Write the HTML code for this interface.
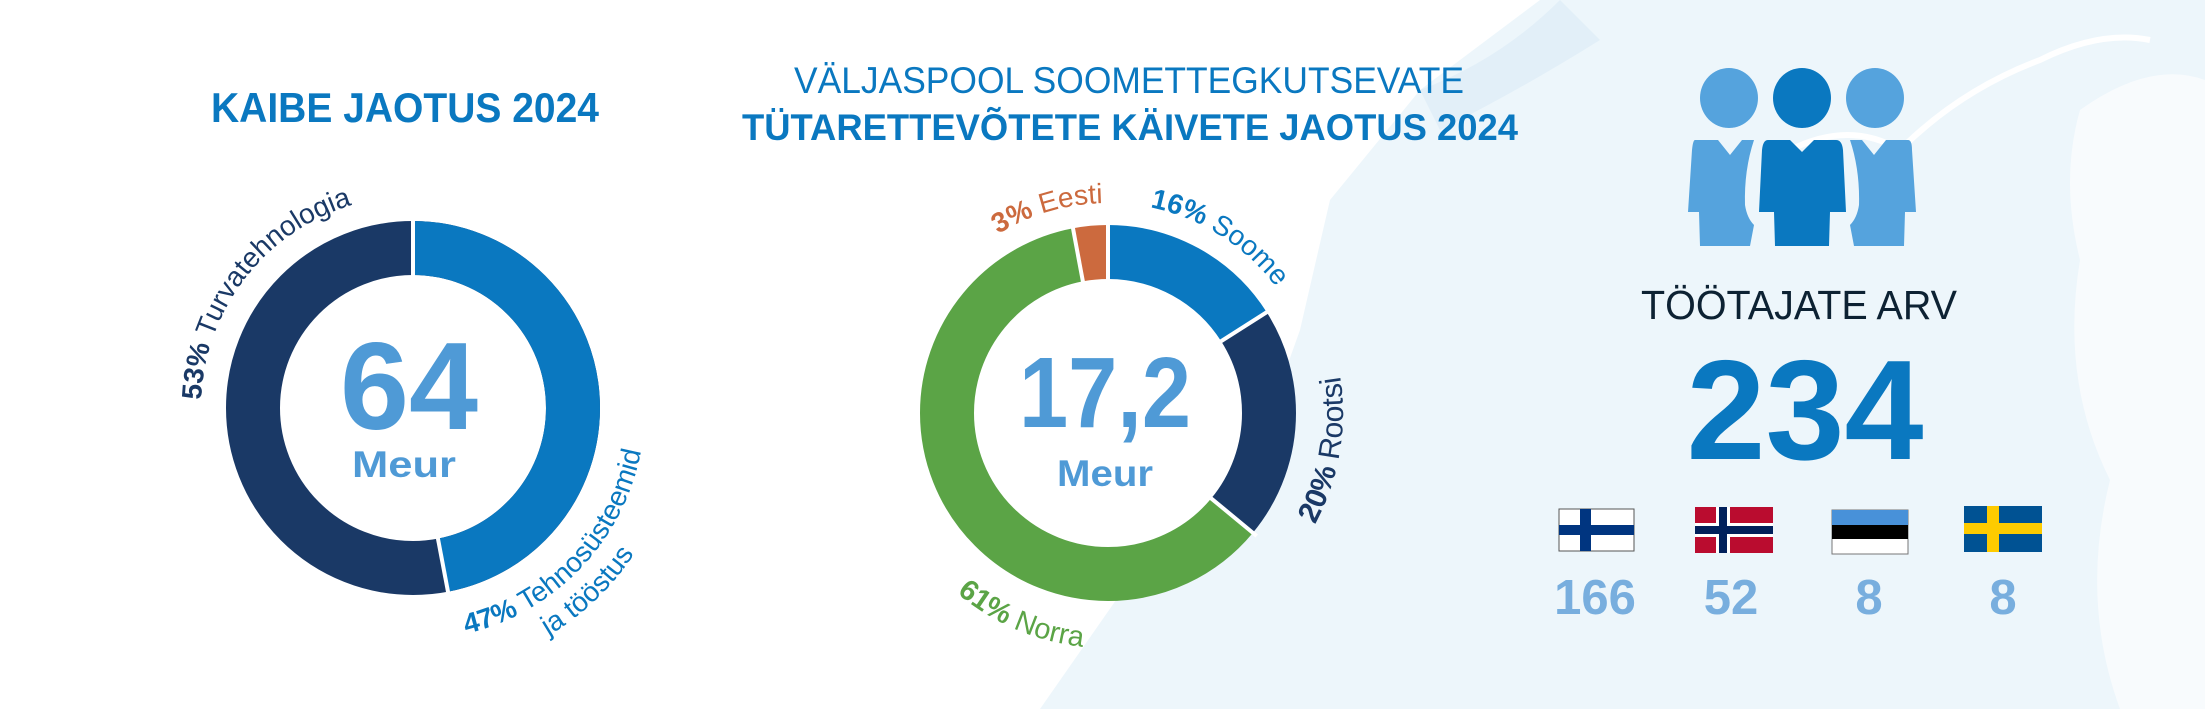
<!DOCTYPE html>
<html><head><meta charset="utf-8"><style>
html,body{margin:0;padding:0;background:#fff;}
svg{display:block;font-family:"Liberation Sans",sans-serif;}
</style></head><body>
<svg width="2205" height="709" viewBox="0 0 2205 709" xmlns="http://www.w3.org/2000/svg">
<defs>
<path id="c1cw" d="M 201,408 A 212 212 0 1 1 625,408 A 212 212 0 1 1 201,408"/>
<path id="c1ccw" d="M 181,408 A 232 232 0 1 0 645,408 A 232 232 0 1 0 181,408"/>
<path id="c1ccw2" d="M 148,408 A 265 265 0 1 0 678,408 A 265 265 0 1 0 148,408"/>
<path id="c2cw" d="M 898,413 A 210 210 0 1 1 1318,413 A 210 210 0 1 1 898,413"/>
<path id="c2ccw" d="M 873,413 A 235 235 0 1 0 1343,413 A 235 235 0 1 0 873,413"/>
</defs>
<path d="M1540,0 L2205,0 L2205,709 L1040,709 L1130,580 L1250,470 L1300,330 L1330,200 L1420,90 Z" fill="#edf6fb"/>
<path d="M1560,0 Q1500,60 1420,90 L1440,130 Q1520,90 1600,40 Z" fill="#e2eff8"/>
<path d="M2080,110 Q2150,60 2205,80 L2205,709 L2120,709 Q2080,600 2110,480 Q2060,380 2080,260 Q2060,180 2080,110 Z" fill="#f8fbfd"/>
<path d="M1790,150 Q1850,120 1900,150 Q1960,90 2040,60 Q2100,30 2150,40" fill="none" stroke="#fff" stroke-width="6"/>
<text x="405" y="122" font-size="42" font-weight="bold" fill="#0a78c0" text-anchor="middle" textLength="388" lengthAdjust="spacingAndGlyphs">KAIBE JAOTUS 2024</text>
<text x="1129" y="93" font-size="37" fill="#0a78c0" text-anchor="middle" textLength="670" lengthAdjust="spacingAndGlyphs">VÄLJASPOOL SOOMETTEGKUTSEVATE</text>
<text x="1130" y="140" font-size="37" font-weight="bold" fill="#0a78c0" text-anchor="middle" textLength="776" lengthAdjust="spacingAndGlyphs">TÜTARETTEVÕTETE KÄIVETE JAOTUS 2024</text>
<g transform="rotate(-90 413 408)">
<circle cx="413" cy="408" r="160" fill="none" stroke="#1a3966" stroke-width="54"/>
<circle cx="413" cy="408" r="160" fill="none" stroke="#0a78c0" stroke-width="54" stroke-dasharray="472.5 2000"/>
</g>
<line x1="413" y1="278" x2="413" y2="216" stroke="#fff" stroke-width="4"/>
<line x1="437.4" y1="535.7" x2="449" y2="597" stroke="#fff" stroke-width="4"/>
<text x="409" y="429" font-size="124" font-weight="bold" fill="#4f9ad6" text-anchor="middle" textLength="138" lengthAdjust="spacingAndGlyphs">64</text>
<text x="404" y="477" font-size="37" font-weight="bold" fill="#4f9ad6" text-anchor="middle" textLength="104" lengthAdjust="spacingAndGlyphs">Meur</text>
<text font-size="28" fill="#1a3966"><textPath href="#c1cw" startOffset="8"><tspan font-weight="bold">53%</tspan> Turvatehnologia</textPath></text>
<text font-size="28" fill="#0a78c0"><textPath href="#c1ccw" startOffset="418"><tspan font-weight="bold">47%</tspan> Tehnosüsteemid</textPath></text>
<text font-size="28" fill="#0a78c0"><textPath href="#c1ccw2" startOffset="558">ja tööstus</textPath></text>
<g transform="rotate(-90 1108 413)" fill="none" stroke-width="54">
<circle cx="1108" cy="413" r="161" stroke="#0a78c0" stroke-dasharray="161.9 2000"/>
<circle cx="1108" cy="413" r="161" stroke="#1a3966" stroke-dasharray="202.3 2000" stroke-dashoffset="-161.9"/>
<circle cx="1108" cy="413" r="161" stroke="#5ba446" stroke-dasharray="617.1 2000" stroke-dashoffset="-364.2"/>
<circle cx="1108" cy="413" r="161" stroke="#cc6a3e" stroke-dasharray="31 2000" stroke-dashoffset="-981.3"/>
</g>
<g stroke="#fff" stroke-width="4">
<line x1="1108" y1="283" x2="1108" y2="220"/>
<line x1="1217.8" y1="343.3" x2="1271" y2="309.5"/>
<line x1="1208.2" y1="495.9" x2="1256.7" y2="536"/>
<line x1="1083.6" y1="285.3" x2="1072" y2="223"/>
</g>
<text x="1105" y="427" font-size="100" font-weight="bold" fill="#4f9ad6" text-anchor="middle" textLength="172" lengthAdjust="spacingAndGlyphs">17,2</text>
<text x="1105" y="486" font-size="37" font-weight="bold" fill="#4f9ad6" text-anchor="middle" textLength="96" lengthAdjust="spacingAndGlyphs">Meur</text>
<text font-size="28" fill="#cc6a3e"><textPath href="#c2cw" startOffset="214"><tspan font-weight="bold">3%</tspan> Eesti</textPath></text>
<text font-size="28" fill="#0a78c0"><textPath href="#c2cw" startOffset="372"><tspan font-weight="bold">16%</tspan> Soome</textPath></text>
<text font-size="30" fill="#1a3966"><textPath href="#c2ccw" startOffset="622"><tspan font-weight="bold">20%</tspan> Rootsi</textPath></text>
<text font-size="29" fill="#5ba446"><textPath href="#c2ccw" startOffset="205"><tspan font-weight="bold">61%</tspan> Norra</textPath></text>
<g fill="#55a3dd">
<ellipse cx="1729" cy="98" rx="29" ry="30"/>
<ellipse cx="1875" cy="98" rx="29" ry="30"/>
<path d="M1695,140 L1718,140 L1730,155 L1742,140 L1754,140 Q1744,170 1745,205 Q1747,218 1754,225 L1750,246 L1700,246 L1699,212 L1688,212 L1692,150 Q1693,140 1695,140 Z"/>
<path d="M1850,140 L1862,140 L1874,155 L1886,140 L1908,140 Q1912,140 1912,150 L1916,212 L1905,212 L1904,246 L1854,246 L1850,225 Q1857,218 1859,205 Q1860,170 1850,140 Z"/>
</g>
<g fill="#0a78c0">
<ellipse cx="1802" cy="98" rx="29" ry="30"/>
<path d="M1768,140 L1790,140 L1802,152 L1814,140 L1836,140 Q1842,140 1843,150 L1846,212 L1830,212 L1829,246 L1775,246 L1774,212 L1759,212 L1762,150 Q1763,140 1768,140 Z"/>
</g>
<text x="1799" y="319" font-size="41" fill="#0d2233" text-anchor="middle" textLength="316" lengthAdjust="spacingAndGlyphs">TÖÖTAJATE ARV</text>
<text x="1805" y="459" font-size="142" font-weight="bold" fill="#0a78c0" text-anchor="middle" textLength="237" lengthAdjust="spacingAndGlyphs">234</text>
<g>
<rect x="1559" y="509" width="75" height="42" fill="#fff" stroke="#555" stroke-width="1"/>
<rect x="1580" y="509" width="11" height="42" fill="#003580"/>
<rect x="1559" y="525" width="75" height="10" fill="#003580"/>
</g>
<g>
<rect x="1695" y="507" width="78" height="46" fill="#ba0c2f"/>
<rect x="1716" y="507" width="14" height="46" fill="#fff"/>
<rect x="1695" y="523" width="78" height="14" fill="#fff"/>
<rect x="1719" y="507" width="8" height="46" fill="#00205b"/>
<rect x="1695" y="526" width="78" height="8" fill="#00205b"/>
</g>
<g>
<rect x="1832" y="510" width="76" height="44" fill="#fff" stroke="#777" stroke-width="1"/>
<rect x="1832" y="510" width="76" height="15" fill="#4891d9"/>
<rect x="1832" y="525" width="76" height="14" fill="#000"/>
</g>
<g>
<rect x="1964" y="506" width="78" height="46" fill="#005293"/>
<rect x="1987" y="506" width="12" height="46" fill="#fecb00"/>
<rect x="1964" y="523" width="78" height="11" fill="#fecb00"/>
</g>
<g font-size="49" font-weight="bold" fill="#78aede" text-anchor="middle">
<text x="1595" y="614">166</text>
<text x="1731" y="614">52</text>
<text x="1869" y="614">8</text>
<text x="2003" y="614">8</text>
</g>
</svg>
</body></html>
